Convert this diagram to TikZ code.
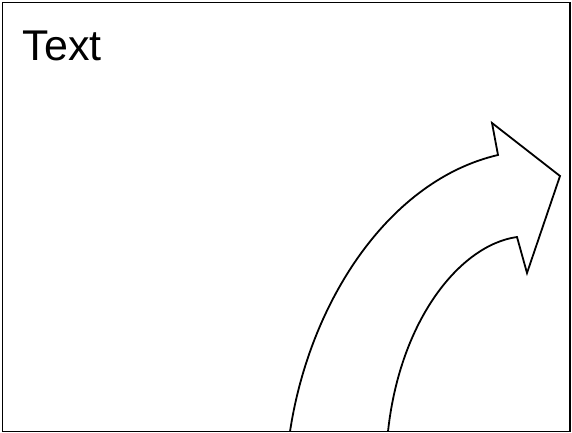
\documentclass[tikz,border=0pt]{standalone}
\usepackage{fontspec}
\setmainfont{Liberation Sans}

\begin{document}
\begin{tikzpicture}[x=1pt, y=-1pt, line width=1.8pt, line join=miter]
  \useasboundingbox (0,0) rectangle (572,433);

  % frame
  \draw (2.5,2.5) rectangle (570,431.5);
  \node[anchor=base west, inner sep=0pt, font=\fontsize{43}{50}\selectfont] (label) at (22,60.7) {Text};

  % arrow points
  \coordinate (O1) at (290,431.5);
  \coordinate (O2) at (498,155);
  \coordinate (H1) at (492,123);
  \coordinate (T) at (560,176);
  \coordinate (H2) at (527,273);
  \coordinate (N) at (517,237);
  \coordinate (I1) at (388,431.5);

  % curved arrow
  \draw (O1) .. controls (310,300) and (390,180) .. (O2)
    -- (H1) -- (T) -- (H2) -- (N)
    .. controls (460,245) and (400,320) .. (I1);
\end{tikzpicture}
\end{document}
